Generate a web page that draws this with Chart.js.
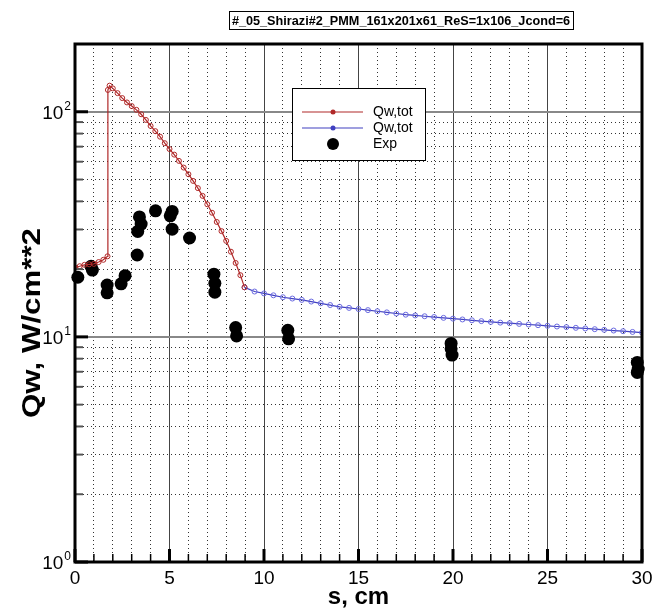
<!DOCTYPE html>
<html>
<head>
<meta charset="utf-8">
<script src="https://cdn.jsdelivr.net/npm/chart.js@4/dist/chart.umd.min.js"></script>
<style>
    html, body { margin: 0; padding: 0; background: #fff; }
    #chart { display: block; }
</style>
</head>
<body>
<canvas id="chart" width="652" height="608"></canvas>
<script>
// Computed Qw,tot (red part, before s ~ 9 cm)
const sRed = [0, 0.25, 0.5, 0.75, 1.0, 1.25, 1.5, 1.72, 1.74, 1.83, 2.0, 2.25, 2.5, 2.75, 3.0, 3.25, 3.5, 3.75,
    4.0, 4.25, 4.5, 4.75, 5.0, 5.25, 5.5, 5.75, 6.0, 6.25, 6.5, 6.75, 7.0, 7.25, 7.5, 7.75, 8.0, 8.25, 8.5, 8.75, 8.97];
const qRed = [20.3, 20.6, 20.9, 21.0, 21.1, 21.5, 22.0, 22.8, 125, 130.6, 127, 121, 115, 110, 106, 102, 97.5, 92,
    86.5, 82, 77.5, 72.5, 68.3, 64.5, 60.5, 56.5, 52.8, 49.3, 45.8, 42.3, 38.8, 35.6, 32.4, 29.5, 26.7, 23.9, 21.3, 18.8, 16.6];

// Computed Qw,tot (blue part)
const sBlue = [8.97, 9.5, 10, 10.5, 11, 11.5, 12, 12.5, 13, 13.5, 14, 14.5, 15, 15.5, 16, 16.5, 17, 17.5, 18, 18.5,
    19, 19.5, 20, 20.5, 21, 21.5, 22, 22.5, 23, 23.5, 24, 24.5, 25, 25.5, 26, 26.5, 27, 27.5, 28, 28.5, 29, 29.5, 30];
const qBlue = [16.6, 15.9, 15.6, 15.3, 15.0, 14.8, 14.6, 14.35, 14.1, 13.85, 13.6, 13.45, 13.3, 13.15, 13.0, 12.85, 12.7, 12.55, 12.45, 12.35,
    12.25, 12.15, 12.05, 11.95, 11.85, 11.75, 11.65, 11.57, 11.5, 11.42, 11.35, 11.27, 11.2, 11.12, 11.05, 10.97, 10.9, 10.82, 10.75, 10.67, 10.6, 10.52, 10.45];

// Experiment
const sExp = [0.15, 0.85, 0.92, 1.7, 1.7, 2.44, 2.65, 3.29, 3.32, 3.5, 3.41, 4.26, 5.14, 5.04, 5.14, 6.06,
    7.35, 7.4, 7.4, 8.5, 8.55, 11.26, 11.3, 19.9, 19.9, 19.95, 29.75, 29.8, 29.75];
const qExp = [18.4, 20.6, 19.8, 17.0, 15.7, 17.2, 18.7, 23.1, 29.4, 31.7, 34.1, 36.3, 36.1, 34.5, 30.1, 27.5,
    19.0, 17.3, 15.8, 11.0, 10.1, 10.7, 9.8, 9.35, 8.85, 8.3, 7.7, 7.2, 6.95];

const xMin = 0, xMax = 30;
const yMin = 1, yMax = 200;
const xMajorLabels = [0, 5, 10, 15, 20, 25, 30];
const yDecades = [1, 10, 100];
const yExps = ['0', '1', '2'];

const redColor = '#b02828';
const blueColor = '#4040c0';
const FONT = '"Liberation Sans", Arial, sans-serif';

const yGridValues = [];
[1, 10, 100].forEach(d => {
    for (let k = 1; k <= 9; k++) {
        if (d * k <= yMax) yGridValues.push(d * k);
    }
});
yGridValues.push(200);

function pts(xs, ys) {
    return xs.map((x, i) => ({ x: x, y: ys[i] }));
}

const isDecade = v => yDecades.indexOf(v) >= 0;

// Title, frame, inward ticks, y labels, axis titles and legend
const decorPlugin = {
    id: 'decor',
    afterDraw(chart) {
        const ctx = chart.ctx;
        const a = chart.chartArea;
        const xs = chart.scales.x, ys = chart.scales.y;

        ctx.save();
        // inward ticks on bottom axis
        ctx.strokeStyle = '#000';
        for (let v = xMin; v <= xMax; v++) {
            const px = xs.getPixelForValue(v);
            const major = v % 5 === 0;
            ctx.lineWidth = major ? 3 : 1.5;
            ctx.beginPath();
            ctx.moveTo(px, a.bottom);
            ctx.lineTo(px, a.bottom - (major ? 13 : 8));
            ctx.stroke();
        }
        // inward ticks on left axis
        yGridValues.forEach(v => {
            const py = ys.getPixelForValue(v);
            const major = isDecade(v);
            ctx.lineWidth = major ? 3 : 2;
            ctx.strokeStyle = major ? '#000' : '#555';
            ctx.beginPath();
            ctx.moveTo(a.left, py);
            ctx.lineTo(a.left + (major ? 13 : 8), py);
            ctx.stroke();
        });
        // frame
        ctx.strokeStyle = '#000';
        ctx.lineWidth = 3;
        ctx.strokeRect(a.left, a.top, a.right - a.left, a.bottom - a.top);

        // y tick labels 10^n
        ctx.fillStyle = '#000';
        ctx.textBaseline = 'alphabetic';
        yDecades.forEach((v, i) => {
            const py = ys.getPixelForValue(v);
            ctx.font = '12px ' + FONT;
            ctx.textAlign = 'right';
            ctx.fillText(yExps[i], a.left - 4, py - 2);
            const ew = ctx.measureText(yExps[i]).width;
            ctx.font = '19px ' + FONT;
            ctx.fillText('10', a.left - 5 - ew, py + 7);
        });

        // axis titles
        ctx.font = 'bold 24px ' + FONT;
        ctx.textAlign = 'center';
        ctx.textBaseline = 'middle';
        ctx.fillText('s, cm', (a.left + a.right) / 2, 597);
        ctx.save();
        ctx.translate(33, 323);
        ctx.rotate(-Math.PI / 2);
        ctx.scale(1.25, 1);
        ctx.font = 'bold 25px ' + FONT;
        ctx.fillText('Qw, W/cm**2', 0, 0);
        ctx.restore();

        // title with box
        const title = '#_05_Shirazi#2_PMM_161x201x61_ReS=1x106_Jcond=6';
        ctx.font = 'bold 13px ' + FONT;
        const tx = 401, ty = 20;
        ctx.save();
        ctx.translate(tx, ty + 1);
        ctx.scale(0.975, 1.05);
        const tw = ctx.measureText(title).width * 0.975;
        ctx.fillText(title, 0, 0);
        ctx.restore();
        ctx.lineWidth = 1;
        ctx.strokeStyle = '#000';
        ctx.strokeRect(Math.round(tx - tw / 2 - 3) + 0.5, 11.5, Math.round(tw + 6), 18);

        // legend
        const lx = 292, lt = 88, lw = 133, lh = 72;
        ctx.fillStyle = '#fff';
        ctx.fillRect(lx, lt, lw, lh);
        ctx.lineWidth = 1;
        ctx.strokeStyle = '#000';
        ctx.strokeRect(lx + 0.5, lt + 0.5, lw, lh);
        const rows = [
            { label: chart.data.datasets[0].label, color: redColor, line: true, r: 2.5 },
            { label: chart.data.datasets[1].label, color: blueColor, line: true, r: 2.5 },
            { label: chart.data.datasets[2].label, color: '#000', line: false, r: 6 }
        ];
        rows.forEach((row, i) => {
            const yy = 112 + i * 16;
            if (row.line) {
                ctx.strokeStyle = row.color;
                ctx.lineWidth = 1.2;
                ctx.beginPath();
                ctx.moveTo(302, yy);
                ctx.lineTo(363, yy);
                ctx.stroke();
                ctx.beginPath();
                ctx.arc(333, yy, row.r, 0, Math.PI * 2);
                ctx.fillStyle = row.color;
                ctx.fill();
            } else {
                ctx.beginPath();
                ctx.arc(333, yy, row.r, 0, Math.PI * 2);
                ctx.fillStyle = '#000';
                ctx.fill();
            }
            ctx.fillStyle = '#000';
            ctx.font = '14px ' + FONT;
            ctx.textAlign = 'left';
            ctx.textBaseline = 'middle';
            ctx.fillText(row.label, 373, yy);
        });
        ctx.restore();
    }
};

const chart = new Chart(document.getElementById('chart'), {
    type: 'scatter',
    data: {
        datasets: [
            {
                label: 'Qw,tot',
                data: pts(sRed, qRed),
                showLine: true,
                borderColor: redColor,
                borderWidth: 1.2,
                pointRadius: 2.5,
                pointBorderWidth: 1,
                pointBorderColor: redColor,
                pointBackgroundColor: 'rgba(255,255,255,0)',
                order: 1
            },
            {
                label: 'Qw,tot',
                data: pts(sBlue, qBlue),
                showLine: true,
                borderColor: blueColor,
                borderWidth: 1.2,
                pointRadius: 2.5,
                pointBorderWidth: 1,
                pointBorderColor: '#6a6ae0',
                pointBackgroundColor: 'rgba(255,255,255,0)',
                order: 1
            },
            {
                label: 'Exp',
                data: pts(sExp, qExp),
                showLine: false,
                pointRadius: 6.5,
                pointBorderWidth: 0,
                pointBackgroundColor: '#000',
                pointBorderColor: '#000',
                clip: 8,
                order: 2
            }
        ]
    },
    options: {
        responsive: false,
        devicePixelRatio: 1,
        animation: false,
        events: [],
        layout: { padding: { top: 44, right: 10, left: 0, bottom: 0 } },
        plugins: {
            legend: { display: false },
            tooltip: { enabled: false },
            title: { display: false }
        },
        scales: {
            x: {
                type: 'linear',
                min: xMin,
                max: xMax,
                afterFit: s => { s.height = 46; s.paddingLeft = 0; s.paddingRight = 0; },
                ticks: {
                    stepSize: 1,
                    autoSkip: false,
                    maxRotation: 0,
                    padding: 5,
                    color: '#000',
                    font: { family: FONT, size: 19 },
                    callback: v => xMajorLabels.indexOf(v) >= 0 ? String(v) : ''
                },
                grid: {
                    drawTicks: false,
                    color: c => (c.tick && c.tick.value % 5 === 0) ? '#444' : '#333',
                    lineWidth: 1
                },
                border: {
                    display: false,
                    dash: c => (c.tick && c.tick.value % 5 === 0) ? [] : [1, 3]
                }
            },
            y: {
                type: 'logarithmic',
                min: yMin,
                max: yMax,
                afterFit: s => { s.width = 75; s.paddingTop = 0; s.paddingBottom = 0; },
                afterBuildTicks: s => { s.ticks = yGridValues.map(v => ({ value: v })); },
                ticks: {
                    display: false
                },
                grid: {
                    drawTicks: false,
                    color: c => (c.tick && isDecade(c.tick.value)) ? '#888' : '#333',
                    lineWidth: c => (c.tick && isDecade(c.tick.value)) ? 2 : 1
                },
                border: {
                    display: false,
                    dash: c => (c.tick && isDecade(c.tick.value)) ? [] : [1, 3]
                }
            }
        }
    },
    plugins: [decorPlugin]
});
</script>
</body>
</html>
